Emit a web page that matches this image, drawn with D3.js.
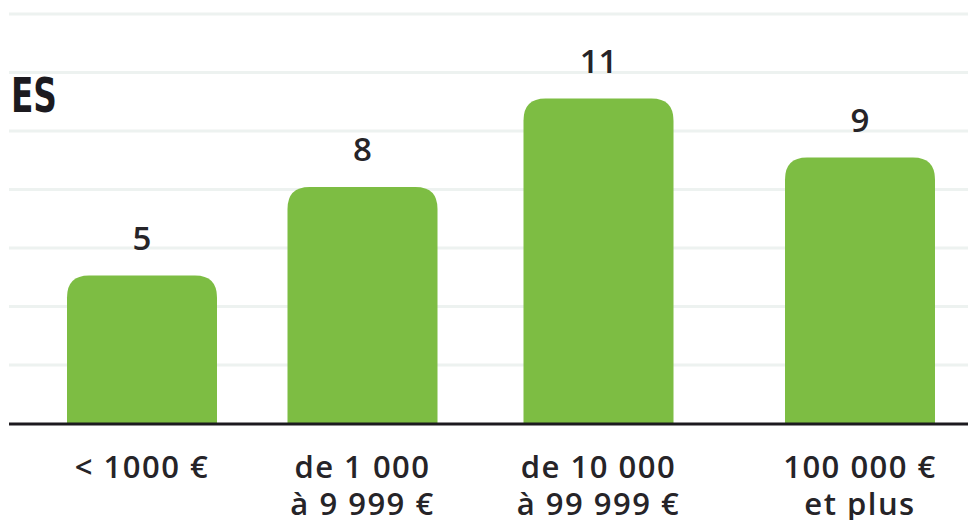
<!DOCTYPE html>
<html>
<head>
<meta charset="utf-8">
<script src="https://cdn.jsdelivr.net/npm/d3@7"></script>
<style>
  body { margin: 0; background: #fff; }
  svg { display: block; }
  .cat, .val { font-family: "Open Sans", sans-serif; font-weight: 600; fill: #262428; }
</style>
</head>
<body>
<div id="chart"></div>
<script>
//Chart data
var categories = ["< 1000 €", "de 1 000|à 9 999 €", "de 10 000|à 99 999 €", "100 000 €|et plus"];
var values = [5, 8, 11, 9];
var gridSteps = [0, 1, 2, 3, 4, 5, 6, 7];

//SVG size
var svgWidth = 968;
var svgHeight = 520;
var baseY = 423;

var svg = d3.select("#chart")
  .append("svg")
  .attr("width", svgWidth)
  .attr("height", svgHeight);

//x positions of the bar centres (bars are not evenly spaced in the original)
var xScale = d3.scaleOrdinal()
  .domain(categories)
  .range([142, 362.5, 598.5, 860]);
var barWidth = 150;

//y scale for the bar values
var yScale = d3.scaleLinear()
  .domain([0, 11])
  .range([baseY, 98.5]);

//background grid scale
var gridScale = d3.scaleLinear()
  .domain([0, 7])
  .range([423.5, 14]);

svg.append("g")
  .selectAll("line")
  .data(gridSteps.slice(1))
  .enter().append("line")
    .attr("x1", 9)
    .attr("x2", svgWidth)
    .attr("y1", function(d) { return gridScale(d); })
    .attr("y2", function(d) { return gridScale(d); })
    .attr("stroke", "#edf2f0")
    .attr("stroke-width", 3);

//cut-off title on the left
var title = svg.append("text")
  .attr("transform", "translate(57,112) scale(0.76,1)")
  .attr("text-anchor", "end")
  .style("font-family", "'DejaVu Sans Condensed', 'DejaVu Sans', sans-serif")
  .style("font-weight", "bold")
  .style("font-size", "48px")
  .style("fill", "#1c1a1f");
title.append("tspan").text("C");
title.append("tspan").attr("dx", 14).text("ES");

//rounded top bar path
function barPath(d, i) {
  var cx = xScale(categories[i]);
  var x0 = cx - barWidth / 2, x1 = cx + barWidth / 2;
  var top = yScale(d), r = 22;
  return "M" + x0 + "," + baseY +
    "V" + (top + r) +
    "Q" + x0 + "," + top + " " + (x0 + r) + "," + top +
    "H" + (x1 - r) +
    "Q" + x1 + "," + top + " " + x1 + "," + (top + r) +
    "V" + baseY + "Z";
}

svg.append("g")
  .selectAll("path")
  .data(values)
  .enter().append("path")
    .attr("d", barPath)
    .attr("fill", "#7dbd43");

//value labels
svg.append("g")
  .selectAll("text")
  .data(values)
  .enter().append("text")
    .attr("class", "val")
    .attr("x", function(d, i) { return xScale(categories[i]); })
    .attr("y", function(d) { return yScale(d) - 26; })
    .attr("text-anchor", "middle")
    .style("font-size", "33px")
    .text(function(d) { return d; });

//baseline
svg.append("line")
  .attr("x1", 9)
  .attr("x2", svgWidth)
  .attr("y1", baseY + 1)
  .attr("y2", baseY + 1)
  .attr("stroke", "#1c1a1f")
  .attr("stroke-width", 3);

//category labels
var catText = svg.append("g")
  .selectAll("text")
  .data(categories)
  .enter().append("text")
    .attr("class", "cat")
    .attr("text-anchor", "middle")
    .attr("x", function(d) { return xScale(d); })
    .attr("y", 478)
    .style("font-size", "31px")
    .style("letter-spacing", "1.5px");

catText.selectAll("tspan")
  .data(function(d) {
    var x = xScale(d);
    return d.split("|").map(function(t) { return {t: t, x: x}; });
  })
  .enter().append("tspan")
    .attr("x", function(d) { return d.x; })
    .attr("dy", function(d, i) { return i === 0 ? 0 : 37; })
    .text(function(d) { return d.t; });
</script>
</body>
</html>
